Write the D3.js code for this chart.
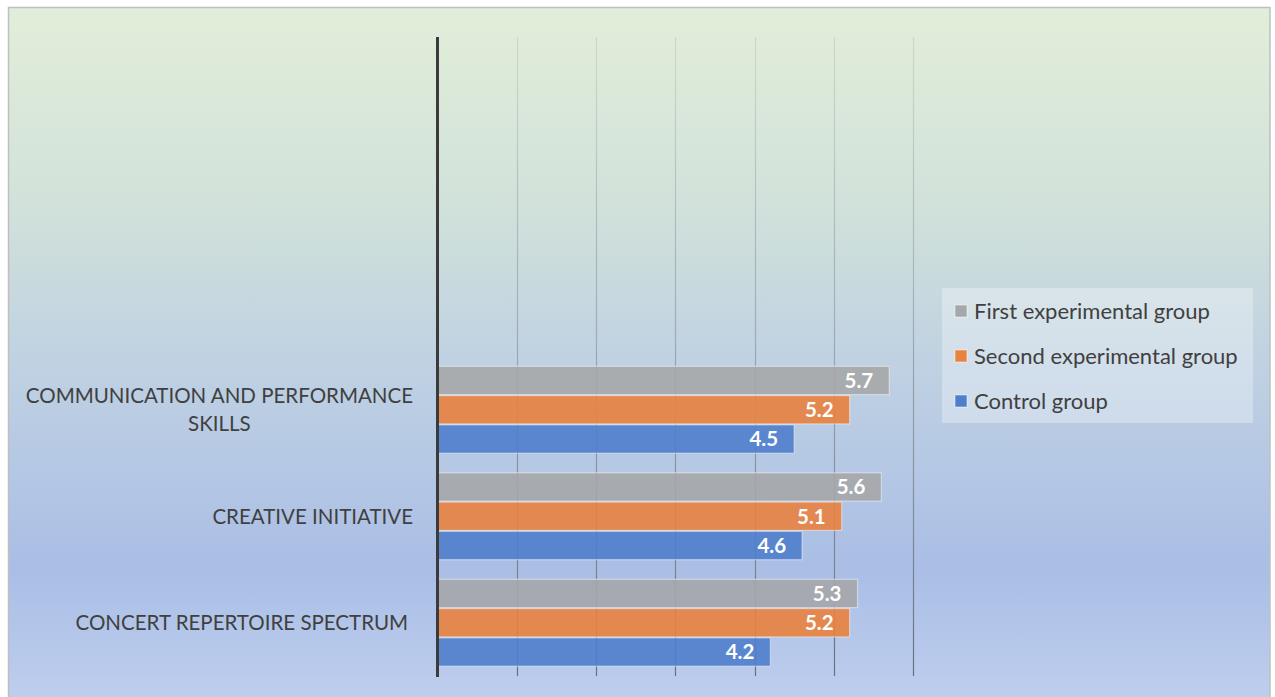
<!DOCTYPE html>
<html>
<head>
<meta charset="utf-8">
<script src="https://cdn.jsdelivr.net/npm/d3@7/dist/d3.min.js"></script>
<style>
  html, body { margin: 0; padding: 0; background: #ffffff; }
  svg { display: block; }
  text { font-family: Lato, "Open Sans", "DejaVu Sans", sans-serif; }
</style>
</head>
<body>
<svg id="chart" width="1275" height="697"></svg>
<script>
// ---- data ----
const categories = ["", "", "", "COMMUNICATION AND PERFORMANCE SKILLS", "CREATIVE INITIATIVE", "CONCERT REPERTOIRE SPECTRUM"];
const seriesNames = ["First experimental group", "Second experimental group", "Control group"];
const firstGroup  = [null, null, null, 5.7, 5.6, 5.3];
const secondGroup = [null, null, null, 5.2, 5.1, 5.2];
const controlGroup = [null, null, null, 4.5, 4.6, 4.2];
const xTicks = [0, 1, 2, 3, 4, 5, 6];
const colors = ["#a5a7aa", "#e8823f", "#4f7ecb"];

const seriesValues = [firstGroup, secondGroup, controlGroup];

const svg = d3.select("#chart");
const defs = svg.append("defs");

// background gradient
const bg = defs.append("linearGradient").attr("id", "bg")
  .attr("x1", 0).attr("y1", 0).attr("x2", 0).attr("y2", 1);
[[0, "#e2eed9"], [0.25, "#d3e3da"], [0.5, "#bfd1e2"], [0.78, "#aabee6"], [1, "#c2d2ef"]]
  .forEach(([o, c]) => bg.append("stop").attr("offset", o).attr("stop-color", c));

const gridGrad = defs.append("linearGradient").attr("id", "gridGrad")
  .attr("gradientUnits", "userSpaceOnUse")
  .attr("x1", 0).attr("y1", 37).attr("x2", 0).attr("y2", 676);
[[0, "#cfd8cd"], [0.45, "#a0abb6"], [1, "#66717f"]]
  .forEach(([o, c]) => gridGrad.append("stop").attr("offset", o).attr("stop-color", c));

svg.append("rect").attr("x", 8.5).attr("y", 7.5).attr("width", 1261.5).attr("height", 720)
  .attr("fill", "url(#bg)").attr("stroke", "#bfbfbf").attr("stroke-width", 1.5);

const x = d3.scaleLinear().domain([0, 6]).range([437.5, 913]);
const y = d3.scaleBand().domain(d3.range(categories.length)).range([37, 676]).paddingInner(0.175).paddingOuter(0.0875);
const ySub = d3.scaleBand().domain(d3.range(seriesNames.length)).range([0, y.bandwidth()]);

// gridlines
svg.append("g").selectAll("line").data(xTicks.slice(1)).join("line")
  .attr("x1", d => Math.round(x(d)) + 0.5).attr("x2", d => Math.round(x(d)) + 0.5)
  .attr("y1", 37).attr("y2", 676)
  .attr("stroke", "url(#gridGrad)").attr("stroke-width", 1.2);

// bars
const rows = [];
categories.forEach((c, i) => seriesValues.forEach((vals, s) => {
  if (vals[i] != null) rows.push({ i, s, v: vals[i] });
}));

svg.append("g").selectAll("rect").data(rows).join("rect")
  .attr("x", x(0))
  .attr("y", d => y(d.i) + ySub(d.s) + 0.5)
  .attr("width", d => x(d.v) - x(0))
  .attr("height", ySub.bandwidth() - 1)
  .attr("fill", d => colors[d.s])
  .attr("fill-opacity", 0.9)
  .attr("stroke", "#ffffff").attr("stroke-opacity", 0.45).attr("stroke-width", 1.2);

svg.append("g").selectAll("text").data(rows).join("text")
  .attr("x", d => x(d.v) - 16)
  .attr("y", d => y(d.i) + ySub(d.s) + ySub.bandwidth() / 2)
  .attr("dy", "0.36em")
  .attr("text-anchor", "end")
  .attr("fill", "#ffffff")
  .attr("font-weight", "bold")
  .attr("font-size", 20.5)
  .text(d => d.v.toFixed(1));

// axis line
svg.append("line").attr("x1", x(0)).attr("x2", x(0)).attr("y1", 37).attr("y2", 677)
  .attr("stroke", "#3b3b3b").attr("stroke-width", 3);

// category labels
const wrapLabel = (t) => t === "COMMUNICATION AND PERFORMANCE SKILLS" ? ["COMMUNICATION AND PERFORMANCE", "SKILLS"] : [t];
const lbl = svg.append("g").selectAll("text").data(categories.map((c, i) => ({ c, i })).filter(d => d.c)).join("text")
  .attr("text-anchor", "middle")
  .attr("fill", "#404040")
  .attr("font-size", 20.5);
lbl.each(function (d) {
  const lines = wrapLabel(d.c);
  const cy = y(d.i) + y.bandwidth() / 2;
  const lh = 28;
  const t = d3.select(this);
  lines.forEach((ln, k) => {
    t.append("tspan").attr("x", 0).attr("y", cy + (k - (lines.length - 1) / 2) * lh).attr("dy", "0.36em").text(ln);
  });
});
// right-align block with centered lines
lbl.each(function (d) {
  const t = d3.select(this);
  const bb = this.getBBox();
  const right = d.i === 5 ? 408 : 413;
  t.attr("transform", `translate(${right - bb.width / 2},0)`);
});

// legend
const lg = svg.append("g");
lg.append("rect").attr("x", 942).attr("y", 288).attr("width", 311).attr("height", 135)
  .attr("fill", "#ffffff").attr("fill-opacity", 0.3);
const items = lg.selectAll("g").data(seriesNames).join("g")
  .attr("transform", (d, i) => `translate(955,${311 + i * 45})`);
items.append("rect").attr("x", 0).attr("y", -6).attr("width", 12).attr("height", 12)
  .attr("fill", (d, i) => colors[i]).attr("stroke", "#ffffff").attr("stroke-opacity", 0.5);
items.append("text").attr("x", 19).attr("y", 0).attr("dy", "0.36em")
  .attr("fill", "#404040").attr("font-size", 22).text(d => d);
</script>
</body>
</html>
